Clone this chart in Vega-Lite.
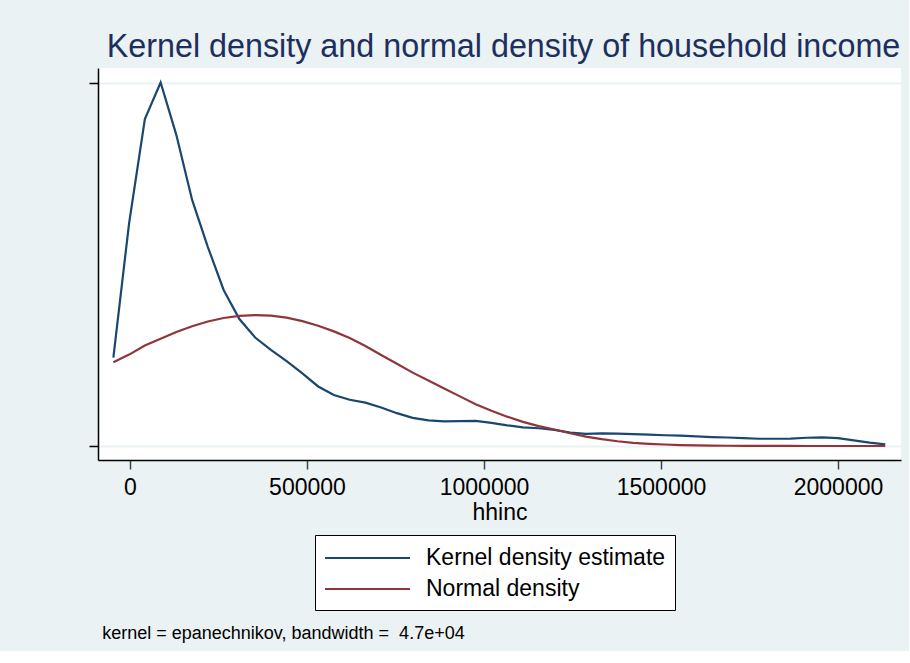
{
  "$schema": "https://vega.github.io/schema/vega-lite/v6.json",
  "background": "#eaf2f3",
  "padding": {"left": 88, "top": 30, "right": 8, "bottom": 8},
  "title": {
    "text": "kernel = epanechnikov, bandwidth = \u00a04.7e+04",
    "orient": "bottom",
    "anchor": "start",
    "dx": 14,
    "offset": 14,
    "fontSize": 18,
    "fontWeight": "normal",
    "color": "#000000",
    "font": "Liberation Sans"
  },
  "vconcat": [
    {
      "width": 803,
      "height": 392,
      "title": {
        "text": "Kernel density and normal density of household income",
        "anchor": "middle",
        "frame": "group",
        "dx": 4,
        "offset": 5,
        "fontSize": 32.3,
        "fontWeight": "normal",
        "color": "#1e2f5e",
        "font": "Liberation Sans"
      },
      "data": {
        "values": [
          {"hhinc": -47000, "kernel": 6.33e-7, "normal": 5.99e-7},
          {"hhinc": -2500, "kernel": 1.595e-6, "normal": 6.54e-7},
          {"hhinc": 42000, "kernel": 2.339e-6, "normal": 7.19e-7},
          {"hhinc": 86500, "kernel": 2.6e-6, "normal": 7.67e-7},
          {"hhinc": 131000, "kernel": 2.224e-6, "normal": 8.15e-7},
          {"hhinc": 175500, "kernel": 1.76e-6, "normal": 8.57e-7},
          {"hhinc": 220000, "kernel": 1.423e-6, "normal": 8.91e-7},
          {"hhinc": 264500, "kernel": 1.116e-6, "normal": 9.16e-7},
          {"hhinc": 309000, "kernel": 9.08e-7, "normal": 9.31e-7},
          {"hhinc": 353500, "kernel": 7.76e-7, "normal": 9.37e-7},
          {"hhinc": 398000, "kernel": 6.87e-7, "normal": 9.33e-7},
          {"hhinc": 442500, "kernel": 6.08e-7, "normal": 9.18e-7},
          {"hhinc": 487000, "kernel": 5.19e-7, "normal": 8.93e-7},
          {"hhinc": 531500, "kernel": 4.26e-7, "normal": 8.6e-7},
          {"hhinc": 576000, "kernel": 3.65e-7, "normal": 8.2e-7},
          {"hhinc": 620500, "kernel": 3.31e-7, "normal": 7.72e-7},
          {"hhinc": 665000, "kernel": 3.1e-7, "normal": 7.15e-7},
          {"hhinc": 709500, "kernel": 2.76e-7, "normal": 6.51e-7},
          {"hhinc": 754000, "kernel": 2.35e-7, "normal": 5.89e-7},
          {"hhinc": 798500, "kernel": 2.01e-7, "normal": 5.25e-7},
          {"hhinc": 843000, "kernel": 1.83e-7, "normal": 4.69e-7},
          {"hhinc": 887500, "kernel": 1.77e-7, "normal": 4.12e-7},
          {"hhinc": 932000, "kernel": 1.78e-7, "normal": 3.55e-7},
          {"hhinc": 976500, "kernel": 1.8e-7, "normal": 2.99e-7},
          {"hhinc": 1021000, "kernel": 1.66e-7, "normal": 2.52e-7},
          {"hhinc": 1065500, "kernel": 1.48e-7, "normal": 2.1e-7},
          {"hhinc": 1110000, "kernel": 1.34e-7, "normal": 1.73e-7},
          {"hhinc": 1154500, "kernel": 1.27e-7, "normal": 1.42e-7},
          {"hhinc": 1199000, "kernel": 1.16e-7, "normal": 1.18e-7},
          {"hhinc": 1243500, "kernel": 9.6e-8, "normal": 9.1e-8},
          {"hhinc": 1288000, "kernel": 8.7e-8, "normal": 6.7e-8},
          {"hhinc": 1332500, "kernel": 9.0e-8, "normal": 4.9e-8},
          {"hhinc": 1377000, "kernel": 8.9e-8, "normal": 3.4e-8},
          {"hhinc": 1421500, "kernel": 8.5e-8, "normal": 2.3e-8},
          {"hhinc": 1466000, "kernel": 8.1e-8, "normal": 1.6e-8},
          {"hhinc": 1510500, "kernel": 7.7e-8, "normal": 1.1e-8},
          {"hhinc": 1555000, "kernel": 7.4e-8, "normal": 7e-9},
          {"hhinc": 1599500, "kernel": 6.9e-8, "normal": 5e-9},
          {"hhinc": 1644000, "kernel": 6.4e-8, "normal": 3e-9},
          {"hhinc": 1688500, "kernel": 6.1e-8, "normal": 2e-9},
          {"hhinc": 1733000, "kernel": 5.6e-8, "normal": 1.5e-9},
          {"hhinc": 1777500, "kernel": 5.2e-8, "normal": 1e-9},
          {"hhinc": 1822000, "kernel": 5.2e-8, "normal": 7e-10},
          {"hhinc": 1866500, "kernel": 5.3e-8, "normal": 5e-10},
          {"hhinc": 1911000, "kernel": 5.9e-8, "normal": 3e-10},
          {"hhinc": 1955500, "kernel": 6.2e-8, "normal": 2e-10},
          {"hhinc": 2000000, "kernel": 5.7e-8, "normal": 1e-10},
          {"hhinc": 2044500, "kernel": 4.1e-8, "normal": 6e-11},
          {"hhinc": 2089000, "kernel": 2.4e-8, "normal": 3e-11},
          {"hhinc": 2133500, "kernel": 1.2e-8, "normal": 2e-11}
        ]
      },
      "transform": [
        {"fold": ["kernel", "normal"], "as": ["series", "density"]}
      ],
      "mark": {"type": "line", "strokeWidth": 2.2, "clip": true},
      "encoding": {
        "x": {
          "field": "hhinc",
          "type": "quantitative",
          "scale": {"domain": [-90400, 2178000], "nice": false, "zero": false},
          "axis": {
            "values": [0, 500000, 1000000, 1500000, 2000000],
            "format": "d",
            "title": "hhinc",
            "grid": false,
            "domainColor": "#000000",
            "domainWidth": 1.5,
            "tickColor": "#444444",
            "tickWidth": 1.5,
            "tickSize": 9,
            "labelFontSize": 23,
            "labelColor": "#000000",
            "labelPadding": 7,
            "labelFont": "Liberation Sans",
            "titleFont": "Liberation Sans",
            "titleFontSize": 23,
            "titleFontWeight": "normal",
            "titleColor": "#000000",
            "titlePadding": 2
          }
        },
        "y": {
          "field": "density",
          "type": "quantitative",
          "scale": {"domain": [-1.0e-7, 2.704e-6], "nice": false, "zero": false},
          "axis": {
            "values": [0, 2.6e-6],
            "labels": false,
            "title": null,
            "grid": true,
            "gridColor": "#eaf2f3",
            "gridWidth": 2,
            "domainColor": "#000000",
            "domainWidth": 1.5,
            "tickColor": "#000000",
            "tickWidth": 1.5,
            "tickSize": 9
          }
        },
        "color": {
          "field": "series",
          "type": "nominal",
          "scale": {"domain": ["kernel", "normal"], "range": ["#1a476f", "#90353b"]},
          "legend": {
            "title": null,
            "orient": "none",
            "legendX": 217,
            "legendY": 467,
            "direction": "vertical",
            "labelExpr": "datum.label == 'kernel' ? 'Kernel density estimate' : 'Normal density'",
            "fillColor": "#ffffff",
            "strokeColor": "#000000",
            "padding": 9,
            "symbolType": "M-1,0H5.54",
            "symbolSize": 676,
            "symbolStrokeWidth": 2,
            "labelFontSize": 23,
            "labelFont": "Liberation Sans",
            "labelColor": "#000000",
            "labelOffset": 74,
            "labelLimit": 400,
            "rowPadding": 5
          }
        }
      }
    }
  ],
  "config": {
    "view": {"stroke": null, "fill": "#ffffff"},
    "font": "Liberation Sans"
  }
}
